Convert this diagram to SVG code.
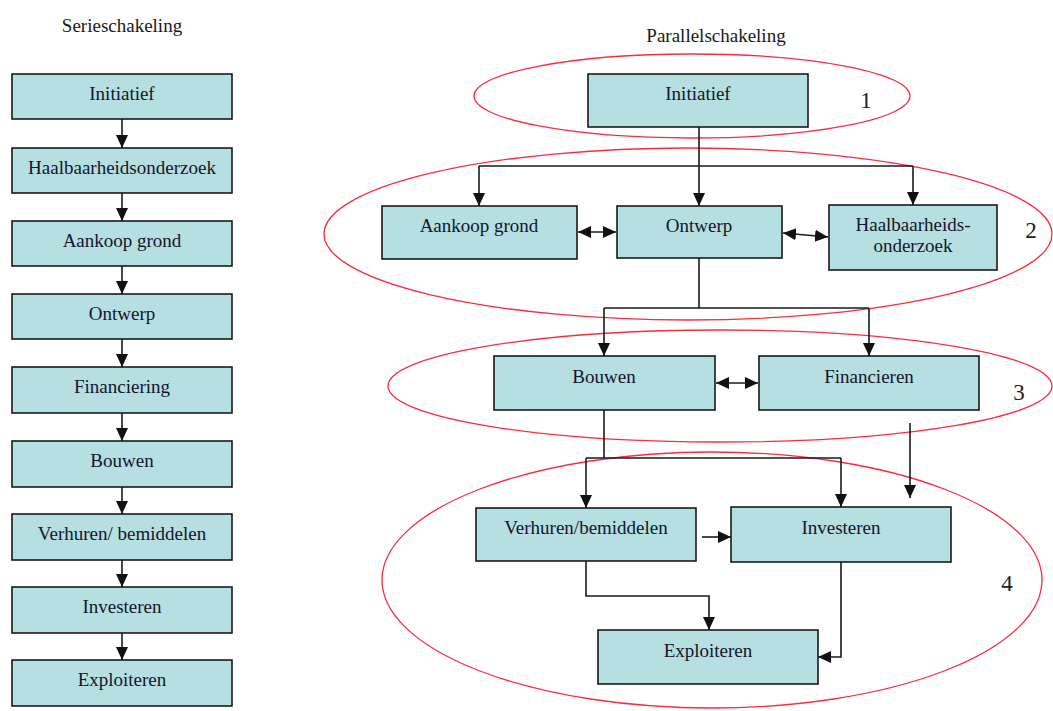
<svg xmlns="http://www.w3.org/2000/svg" width="1053" height="711" viewBox="0 0 1053 711">
  <style>
    .box { fill: #b5dfe0; stroke: #1a1a1a; stroke-width: 1.6; }
    .lbl { font-family: "Liberation Serif", "Times New Roman", serif; font-size: 19px; fill: #15152e; text-anchor: middle; }
    .title { font-family: "Liberation Serif", "Times New Roman", serif; font-size: 19px; fill: #1a1a1a; text-anchor: middle; }
    .num { font-family: "Liberation Serif", "Times New Roman", serif; font-size: 23px; fill: #222; text-anchor: middle; }
    .ring { fill: none; stroke: #ff2a3a; stroke-width: 1.3; }
    .wire { fill: none; stroke: #1a1a1a; stroke-width: 1.6; }
    .arr { marker-end: url(#head); }
    .dbl { marker-start: url(#headStart); marker-end: url(#head); }
  </style>
  <defs>
    <marker id="head" markerUnits="userSpaceOnUse" markerWidth="14" markerHeight="14" viewBox="0 0 14 14" refX="13" refY="7" orient="auto">
      <path d="M0,1 L13,7 L0,13 Z" fill="#111"/>
    </marker>
    <marker id="headStart" markerUnits="userSpaceOnUse" markerWidth="14" markerHeight="14" viewBox="0 0 14 14" refX="1" refY="7" orient="auto">
      <path d="M14,1 L1,7 L14,13 Z" fill="#111"/>
    </marker>
  </defs>

  <rect width="1053" height="711" fill="#ffffff"/>

  <!-- headings -->
  <text class="title" x="122" y="32">Serieschakeling</text>
  <text class="title" x="716" y="42">Parallelschakeling</text>

  <!-- phase rings -->
  <g id="phases">
    <ellipse class="ring" cx="692" cy="96" rx="218" ry="42"/>
    <ellipse class="ring" cx="688" cy="234" rx="364" ry="86"/>
    <ellipse class="ring" cx="720" cy="386" rx="332" ry="56"/>
    <ellipse class="ring" cx="712" cy="580" rx="330" ry="128"/>
    <text class="num" x="866" y="108">1</text>
    <text class="num" x="1031" y="238">2</text>
    <text class="num" x="1019" y="400">3</text>
    <text class="num" x="1007" y="591">4</text>
  </g>

  <!-- serial chain -->
  <g id="s-initiatief"><rect class="box" x="12" y="74" width="220" height="45"/><text class="lbl" x="122" y="100">Initiatief</text></g>
  <g id="s-haalbaarheid"><rect class="box" x="12" y="148" width="220" height="45"/><text class="lbl" x="122" y="174">Haalbaarheidsonderzoek</text></g>
  <g id="s-aankoop"><rect class="box" x="12" y="221" width="220" height="45"/><text class="lbl" x="122" y="247">Aankoop grond</text></g>
  <g id="s-ontwerp"><rect class="box" x="12" y="294" width="220" height="45"/><text class="lbl" x="122" y="320">Ontwerp</text></g>
  <g id="s-financiering"><rect class="box" x="12" y="367" width="220" height="46"/><text class="lbl" x="122" y="393">Financiering</text></g>
  <g id="s-bouwen"><rect class="box" x="12" y="441" width="220" height="46"/><text class="lbl" x="122" y="467">Bouwen</text></g>
  <g id="s-verhuren"><rect class="box" x="12" y="514" width="220" height="46"/><text class="lbl" x="122" y="540">Verhuren/ bemiddelen</text></g>
  <g id="s-investeren"><rect class="box" x="12" y="587" width="220" height="46"/><text class="lbl" x="122" y="613">Investeren</text></g>
  <g id="s-exploiteren"><rect class="box" x="12" y="660" width="220" height="46"/><text class="lbl" x="122" y="686">Exploiteren</text></g>

  <!-- parallel scheme -->
  <g id="p-initiatief"><rect class="box" x="588" y="74" width="220" height="53"/><text class="lbl" x="698" y="100">Initiatief</text></g>
  <g id="p-aankoop"><rect class="box" x="382" y="206" width="195" height="53"/><text class="lbl" x="479" y="232">Aankoop grond</text></g>
  <g id="p-ontwerp"><rect class="box" x="617" y="206" width="165" height="52"/><text class="lbl" x="699" y="232">Ontwerp</text></g>
  <g id="p-haalbaarheid"><rect class="box" x="829" y="205" width="168" height="65"/><text class="lbl" x="913" y="231">Haalbaarheids-</text><text class="lbl" x="913" y="252">onderzoek</text></g>
  <g id="p-bouwen"><rect class="box" x="494" y="356" width="221" height="54"/><text class="lbl" x="604" y="383">Bouwen</text></g>
  <g id="p-financieren"><rect class="box" x="759" y="356" width="220" height="54"/><text class="lbl" x="869" y="383">Financieren</text></g>
  <g id="p-verhuren"><rect class="box" x="476" y="508" width="220" height="53"/><text class="lbl" x="586" y="534">Verhuren/bemiddelen</text></g>
  <g id="p-investeren"><rect class="box" x="731" y="507" width="220" height="55"/><text class="lbl" x="841" y="534">Investeren</text></g>
  <g id="p-exploiteren"><rect class="box" x="598" y="630" width="220" height="54"/><text class="lbl" x="708" y="657">Exploiteren</text></g>

  <g id="connectors">
    <!-- serial chain -->
    <path class="wire arr" d="M122,119 V148"/>
    <path class="wire arr" d="M122,193 V221"/>
    <path class="wire arr" d="M122,266 V294"/>
    <path class="wire arr" d="M122,339 V367"/>
    <path class="wire arr" d="M122,413 V441"/>
    <path class="wire arr" d="M122,487 V514"/>
    <path class="wire arr" d="M122,560 V587"/>
    <path class="wire arr" d="M122,633 V660"/>

    <!-- phase 1 to phase 2 -->
    <path class="wire" d="M699,127 V166 M479,166 H913"/>
    <path class="wire arr" d="M479,166 V206"/>
    <path class="wire arr" d="M699,166 V206"/>
    <path class="wire arr" d="M913,166 V205"/>
    <path class="wire dbl" d="M578,232 H616"/>
    <path class="wire dbl" d="M783,233 L828,237"/>

    <!-- phase 2 to phase 3 -->
    <path class="wire" d="M699,258 V308 M604,308 H869"/>
    <path class="wire arr" d="M604,308 V356"/>
    <path class="wire arr" d="M869,308 V356"/>
    <path class="wire dbl" d="M716,383 H758"/>

    <!-- phase 3 to phase 4 -->
    <path class="wire" d="M604,410 V458 M586,458 H841"/>
    <path class="wire arr" d="M586,458 V508"/>
    <path class="wire arr" d="M841,458 V507"/>
    <path class="wire arr" d="M910,423 V498"/>
    <path class="wire arr" d="M702,537 H731"/>
    <path class="wire arr" d="M586,561 V596 H709 V630"/>
    <path class="wire arr" d="M841,562 V657 H818"/>
  </g>
</svg>
